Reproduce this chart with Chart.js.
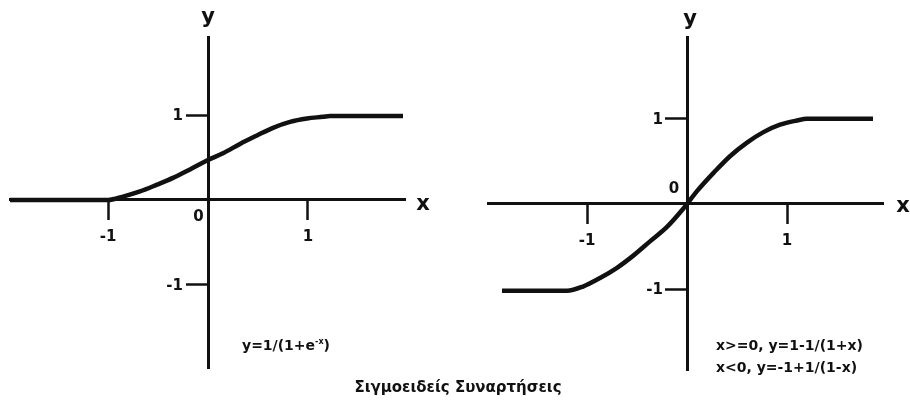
<!DOCTYPE html>
<html>
<head>
<meta charset="utf-8">
<script src="https://cdn.jsdelivr.net/npm/chart.js@4"></script>
<style>
  html, body { margin: 0; padding: 0; background: #fff; }
  #wrap { position: relative; width: 910px; height: 407px; overflow: hidden; font-family: "DejaVu Sans", Verdana, sans-serif; font-weight: bold; color: #111; }
  .pane { position: absolute; top: 0; width: 455px; height: 407px; }
  .txt { position: absolute; font-size: 14px; line-height: 22px; white-space: nowrap; }
  .txt sup { font-size: 8px; vertical-align: 6px; line-height: 0; }
  #title { position: absolute; left: 0; width: 916px; top: 378px; text-align: center; font-size: 15px; }
</style>
</head>
<body>
<div id="wrap">
  <div class="pane" style="left:0"><canvas id="logistic" width="455" height="407"></canvas></div>
  <div class="pane" style="left:455px"><canvas id="rational" width="455" height="407"></canvas></div>
  <div class="txt" style="left:242px; top:334px">y=1/(1+e<sup>-x</sup>)</div>
  <div class="txt" style="left:716px; top:334px">x&gt;=0, y=1-1/(1+x)<br>x&lt;0, y=-1+1/(1-x)</div>
  <div id="title">Σιγμοειδείς Συναρτήσεις</div>
</div>
<script>
// ticks shown on both plots
const xTicks = [-1, 1];
const yTicks = [-1, 1];

// left plot: y = 1/(1+e^-x)
const logX = [-1.98, -1.0, -0.85, -0.68, -0.51, -0.35, -0.18, 0, 0.15, 0.32, 0.49, 0.65, 0.82, 0.99, 1.15, 1.22, 1.95];
const logY = [0, 0, 0.04, 0.10, 0.18, 0.26, 0.36, 0.47, 0.55, 0.66, 0.76, 0.85, 0.92, 0.96, 0.98, 0.99, 0.99];

// right plot: piecewise rational sigmoid
const ratX = [-1.85, -1.2, -1.04, -0.87, -0.70, -0.54, -0.37, -0.20, -0.04, 0, 0.10, 0.27, 0.43, 0.60, 0.76, 0.93, 1.10, 1.20, 1.86];
const ratY = [-1.02, -1.02, -0.97, -0.87, -0.75, -0.61, -0.44, -0.27, -0.06, 0, 0.15, 0.37, 0.56, 0.72, 0.84, 0.93, 0.98, 1.0, 1.0];

const tickFont = { family: 'DejaVu Sans', size: 15, weight: 'bold' };

// draws the "x", "y" axis names, the y tick labels and the "0" near the origin
const axisNames = {
  id: 'axisNames',
  afterDraw(chart, args, o) {
    const { ctx, scales: { x, y } } = chart;
    const ox = x.getPixelForValue(0), oy = y.getPixelForValue(0);
    ctx.save();
    ctx.fillStyle = '#111';
    ctx.textAlign = 'center';
    ctx.textBaseline = 'middle';
    ctx.font = 'bold 21px "DejaVu Sans"';
    ctx.fillText('x', x.right + o.xName[0], oy + o.xName[1]);
    ctx.fillText('y', ox + o.yName[0], y.top + o.yName[1]);
    ctx.font = 'bold 15px "DejaVu Sans"';
    ctx.fillText('0', ox + o.zero[0], oy + o.zero[1]);
    ctx.textAlign = 'right';
    yTicks.forEach(v => ctx.fillText(String(v), ox - o.yLabel, y.getPixelForValue(v) + 1));
    ctx.restore();
  }
};

function makeChart(id, xs, ys, xr, yr, pad, names) {
  return new Chart(document.getElementById(id), {
    type: 'scatter',
    data: {
      datasets: [{
        data: xs.map((v, i) => ({ x: v, y: ys[i] })),
        showLine: true,
        borderColor: '#111',
        borderWidth: 4.5,
        pointRadius: 0,
        cubicInterpolationMode: 'monotone'
      }]
    },
    options: {
      responsive: false,
      animation: false,
      devicePixelRatio: 1,
      layout: { padding: pad },
      plugins: { legend: { display: false }, tooltip: { enabled: false }, axisNames: names },
      scales: {
        x: {
          type: 'linear', min: xr[0], max: xr[1], position: { y: 0 },
          afterBuildTicks: s => { s.ticks = xTicks.map(v => ({ value: v })); },
          grid: { drawOnChartArea: false, tickLength: 19, tickWidth: 2.5, tickColor: '#111' },
          border: { color: '#111', width: 3 },
          ticks: { color: '#111', font: tickFont, padding: 9, callback: v => String(v) }
        },
        y: {
          type: 'linear', min: yr[0], max: yr[1], position: { x: 0 },
          afterBuildTicks: s => { s.ticks = yTicks.map(v => ({ value: v })); },
          grid: { drawOnChartArea: false, tickLength: 21, tickWidth: 2.5, tickColor: '#111' },
          border: { color: '#111', width: 3 },
          ticks: { display: false }
        }
      }
    },
    plugins: [axisNames]
  });
}

makeChart('logistic', logX, logY, [-1.98, 1.97], [-1.98, 1.92],
  { left: 10, right: 50, top: 37, bottom: 39 },
  { xName: [18, 5], yName: [0, -19], zero: [-9.5, 17.5], yLabel: 25 });

makeChart('rational', ratX, ratY, [-1.99, 1.96], [-1.95, 1.96],
  { left: 33, right: 27, top: 37, bottom: 37 },
  { xName: [20, 3], yName: [3, -17], zero: [-13, -15], yLabel: 24 });
</script>
</body>
</html>
